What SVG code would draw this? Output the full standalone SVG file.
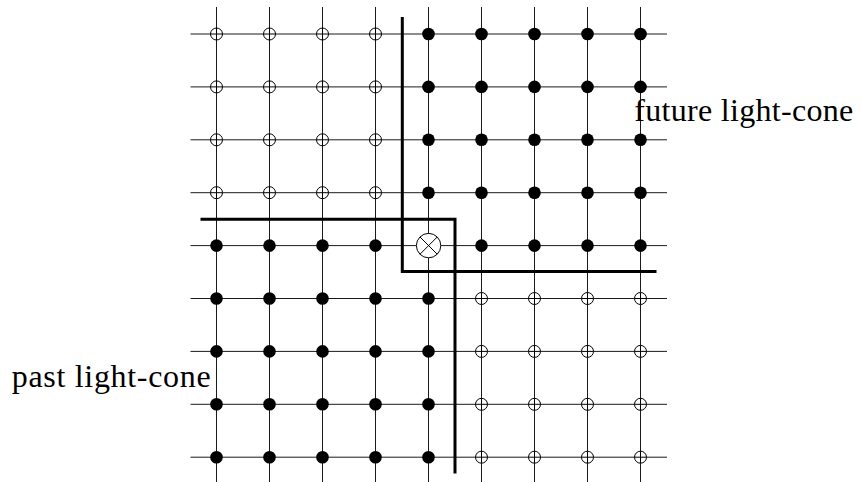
<svg xmlns="http://www.w3.org/2000/svg" width="861" height="482" viewBox="0 0 861 482">
<style>
.grid line{stroke:#000;stroke-width:0.9}
.cone{stroke:#000;stroke-width:3;fill:none;stroke-linecap:square}
.open{fill:#fff;stroke:#000;stroke-width:1}
.open-x{stroke:#000;stroke-width:1}
.full{fill:#000}
.lbl{font-family:"Liberation Serif","Times New Roman",serif;font-size:32px;fill:#000}
</style>
<defs>
<g id="o"><circle class="open" r="6"/><line class="open-x" x1="-6" y1="0" x2="6" y2="0"/><line class="open-x" x1="0" y1="-6" x2="0" y2="6"/></g>
<circle id="f" class="full" r="6.3"/>
</defs>
<g id="connectors">
<g class="grid">
<line x1="216.5" y1="7" x2="216.5" y2="482"/>
<line x1="269.5" y1="7" x2="269.5" y2="482"/>
<line x1="322.5" y1="7" x2="322.5" y2="482"/>
<line x1="375.5" y1="7" x2="375.5" y2="482"/>
<line x1="428.5" y1="7" x2="428.5" y2="482"/>
<line x1="481.5" y1="7" x2="481.5" y2="482"/>
<line x1="534.5" y1="7" x2="534.5" y2="482"/>
<line x1="587.5" y1="7" x2="587.5" y2="482"/>
<line x1="640.5" y1="7" x2="640.5" y2="482"/>
<line x1="190.5" y1="34" x2="667" y2="34"/>
<line x1="190.5" y1="86.9" x2="667" y2="86.9"/>
<line x1="190.5" y1="139.8" x2="667" y2="139.8"/>
<line x1="190.5" y1="192.7" x2="667" y2="192.7"/>
<line x1="190.5" y1="245.6" x2="667" y2="245.6"/>
<line x1="190.5" y1="298.5" x2="667" y2="298.5"/>
<line x1="190.5" y1="351.4" x2="667" y2="351.4"/>
<line x1="190.5" y1="404.3" x2="667" y2="404.3"/>
<line x1="190.5" y1="457.2" x2="667" y2="457.2"/>
</g>
<polyline id="future-cone" class="cone" points="402.3,18.5 402.3,271.5 655,271.5"/>
<polyline id="past-cone" class="cone" points="202,219.3 455,219.3 455,472"/>
</g>
<g id="nodes-row0">
<use href="#o" x="216.5" y="34"/><use href="#o" x="269.5" y="34"/><use href="#o" x="322.5" y="34"/><use href="#o" x="375.5" y="34"/>
<use href="#f" x="428.5" y="34"/><use href="#f" x="481.5" y="34"/><use href="#f" x="534.5" y="34"/><use href="#f" x="587.5" y="34"/><use href="#f" x="640.5" y="34"/>
</g>
<g id="nodes-row1">
<use href="#o" x="216.5" y="86.9"/><use href="#o" x="269.5" y="86.9"/><use href="#o" x="322.5" y="86.9"/><use href="#o" x="375.5" y="86.9"/>
<use href="#f" x="428.5" y="86.9"/><use href="#f" x="481.5" y="86.9"/><use href="#f" x="534.5" y="86.9"/><use href="#f" x="587.5" y="86.9"/><use href="#f" x="640.5" y="86.9"/>
</g>
<g id="nodes-row2">
<use href="#o" x="216.5" y="139.8"/><use href="#o" x="269.5" y="139.8"/><use href="#o" x="322.5" y="139.8"/><use href="#o" x="375.5" y="139.8"/>
<use href="#f" x="428.5" y="139.8"/><use href="#f" x="481.5" y="139.8"/><use href="#f" x="534.5" y="139.8"/><use href="#f" x="587.5" y="139.8"/><use href="#f" x="640.5" y="139.8"/>
</g>
<g id="nodes-row3">
<use href="#o" x="216.5" y="192.7"/><use href="#o" x="269.5" y="192.7"/><use href="#o" x="322.5" y="192.7"/><use href="#o" x="375.5" y="192.7"/>
<use href="#f" x="428.5" y="192.7"/><use href="#f" x="481.5" y="192.7"/><use href="#f" x="534.5" y="192.7"/><use href="#f" x="587.5" y="192.7"/><use href="#f" x="640.5" y="192.7"/>
</g>
<g id="nodes-row4">
<use href="#f" x="216.5" y="245.6"/><use href="#f" x="269.5" y="245.6"/><use href="#f" x="322.5" y="245.6"/><use href="#f" x="375.5" y="245.6"/>
<use href="#f" x="481.5" y="245.6"/><use href="#f" x="534.5" y="245.6"/><use href="#f" x="587.5" y="245.6"/><use href="#f" x="640.5" y="245.6"/>
</g>
<g id="event">
<circle cx="428.6" cy="245.6" r="12.2" fill="#fff" stroke="#000" stroke-width="1"/>
<line x1="420" y1="237" x2="437.2" y2="254.2" stroke="#000" stroke-width="1"/>
<line x1="437.2" y1="237" x2="420" y2="254.2" stroke="#000" stroke-width="1"/>
</g>
<g id="nodes-row5">
<use href="#f" x="216.5" y="298.5"/><use href="#f" x="269.5" y="298.5"/><use href="#f" x="322.5" y="298.5"/><use href="#f" x="375.5" y="298.5"/><use href="#f" x="428.5" y="298.5"/>
<use href="#o" x="481.5" y="298.5"/><use href="#o" x="534.5" y="298.5"/><use href="#o" x="587.5" y="298.5"/><use href="#o" x="640.5" y="298.5"/>
</g>
<g id="nodes-row6">
<use href="#f" x="216.5" y="351.4"/><use href="#f" x="269.5" y="351.4"/><use href="#f" x="322.5" y="351.4"/><use href="#f" x="375.5" y="351.4"/><use href="#f" x="428.5" y="351.4"/>
<use href="#o" x="481.5" y="351.4"/><use href="#o" x="534.5" y="351.4"/><use href="#o" x="587.5" y="351.4"/><use href="#o" x="640.5" y="351.4"/>
</g>
<g id="nodes-row7">
<use href="#f" x="216.5" y="404.3"/><use href="#f" x="269.5" y="404.3"/><use href="#f" x="322.5" y="404.3"/><use href="#f" x="375.5" y="404.3"/><use href="#f" x="428.5" y="404.3"/>
<use href="#o" x="481.5" y="404.3"/><use href="#o" x="534.5" y="404.3"/><use href="#o" x="587.5" y="404.3"/><use href="#o" x="640.5" y="404.3"/>
</g>
<g id="nodes-row8">
<use href="#f" x="216.5" y="457.2"/><use href="#f" x="269.5" y="457.2"/><use href="#f" x="322.5" y="457.2"/><use href="#f" x="375.5" y="457.2"/><use href="#f" x="428.5" y="457.2"/>
<use href="#o" x="481.5" y="457.2"/><use href="#o" x="534.5" y="457.2"/><use href="#o" x="587.5" y="457.2"/><use href="#o" x="640.5" y="457.2"/>
</g>
<g id="label-future">
<text class="lbl" x="634.3" y="121" textLength="219" lengthAdjust="spacing">future light-cone</text>
</g>
<g id="label-past">
<text class="lbl" x="11.7" y="386.7" textLength="199" lengthAdjust="spacing">past light-cone</text>
</g>
</svg>
